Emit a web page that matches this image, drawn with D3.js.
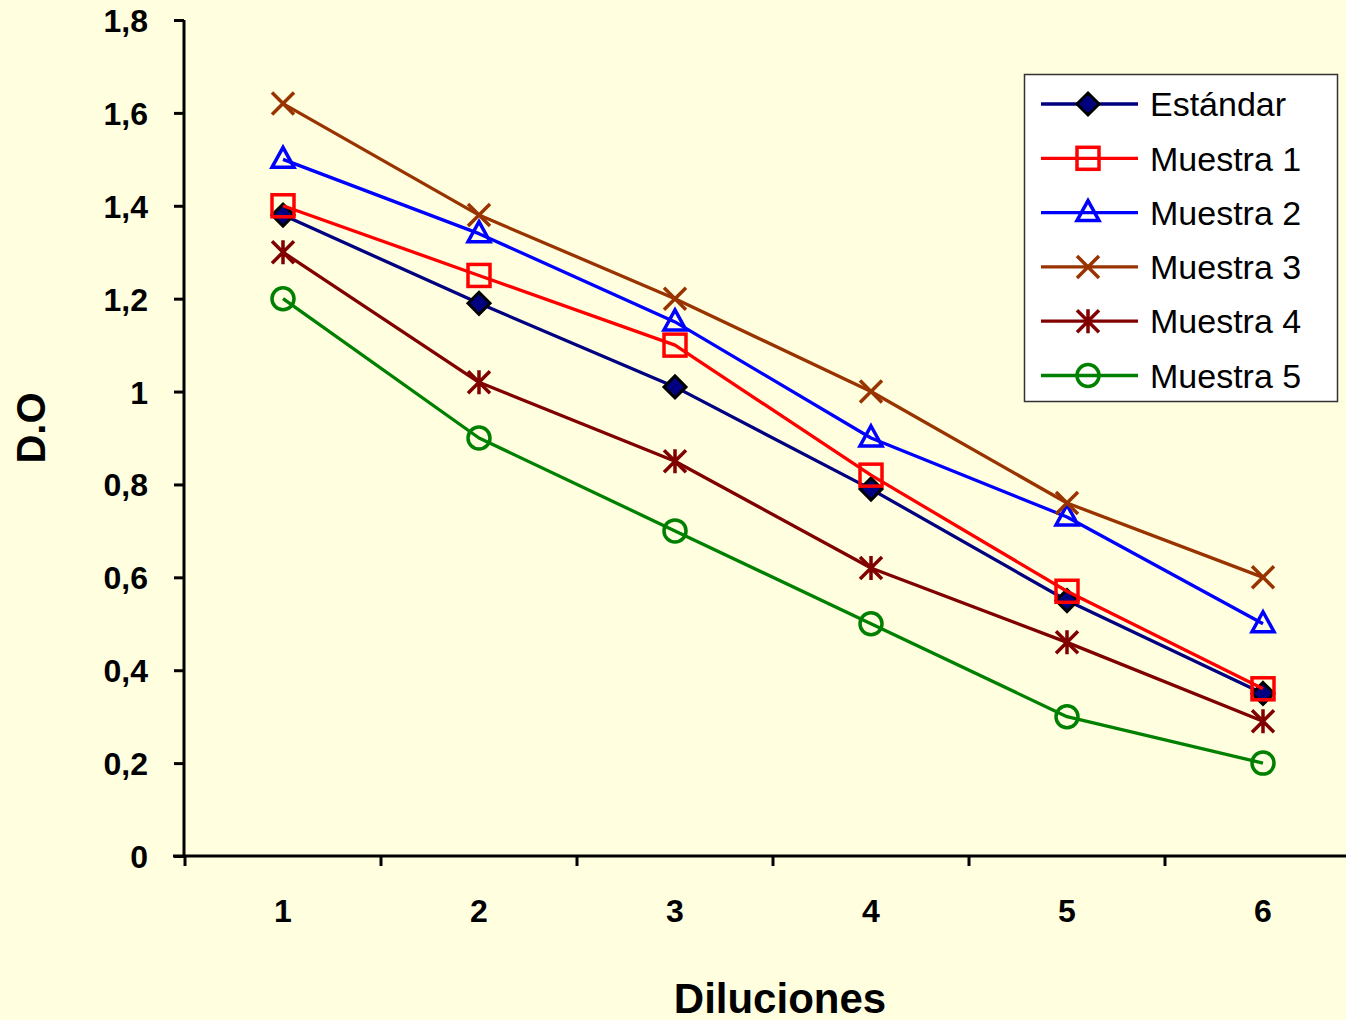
<!DOCTYPE html>
<html>
<head>
<meta charset="utf-8">
<script src="https://cdn.jsdelivr.net/npm/d3@7"></script>
<style>
  html, body { margin: 0; padding: 0; background: #FFFFE0; }
  svg { display: block; font-family: Arial, "Liberation Sans", sans-serif; }
</style>
</head>
<body>
<svg id="chart" width="1346" height="1020"></svg>
<script>
// Dilution steps on the x axis
const diluciones = ["1", "2", "3", "4", "5", "6"];

// Optical density readings per series
const estandar = [1.38, 1.19, 1.01, 0.79, 0.55, 0.35];
const muestra1 = [1.40, 1.25, 1.10, 0.82, 0.57, 0.36];
const muestra2 = [1.50, 1.34, 1.15, 0.90, 0.73, 0.50];
const muestra3 = [1.62, 1.38, 1.20, 1.00, 0.76, 0.60];
const muestra4 = [1.30, 1.02, 0.85, 0.62, 0.46, 0.29];
const muestra5 = [1.20, 0.90, 0.70, 0.50, 0.30, 0.20];

const seriesNames = ["Estándar", "Muestra 1", "Muestra 2", "Muestra 3", "Muestra 4", "Muestra 5"];
const yTicks = [0, 0.2, 0.4, 0.6, 0.8, 1.0, 1.2, 1.4, 1.6, 1.8];

const series = [
  { name: seriesNames[0], values: estandar, color: "#000080", marker: "diamond" },
  { name: seriesNames[1], values: muestra1, color: "#FF0000", marker: "square" },
  { name: seriesNames[2], values: muestra2, color: "#0000FF", marker: "triangle" },
  { name: seriesNames[3], values: muestra3, color: "#993300", marker: "x" },
  { name: seriesNames[4], values: muestra4, color: "#800000", marker: "star" },
  { name: seriesNames[5], values: muestra5, color: "#008000", marker: "circle" }
];

const svg = d3.select("#chart");
const plotLeft = 185, plotRight = 1361, plotTop = 20, plotBottom = 856;

const x = d3.scaleBand().domain(diluciones).range([plotLeft, plotRight]);
const y = d3.scaleLinear().domain([0, 1.8]).range([plotBottom, plotTop]);
const fmt = d => String(+d.toFixed(1)).replace(".", ",");

// Y axis
const yAxis = svg.append("g")
  .attr("transform", `translate(${plotLeft - 1},0)`)
  .call(d3.axisLeft(y).tickValues(yTicks).tickFormat(fmt).tickSize(10).tickPadding(26));
yAxis.select(".domain").attr("stroke", "#000").attr("stroke-width", 3).attr("d", `M0,${plotTop}V${plotBottom}`);
yAxis.selectAll(".tick line").attr("stroke", "#000").attr("stroke-width", 3);
yAxis.selectAll(".tick text")
  .attr("fill", "#000").attr("font-size", 32).attr("font-weight", "bold")
  .attr("font-family", "Arial, 'Liberation Sans', sans-serif")
  .attr("dy", "0.36em");

// X axis: ticks sit on the band boundaries, labels at band centres
const xAxisG = svg.append("g").attr("transform", `translate(0,${plotBottom})`);
xAxisG.append("line")
  .attr("x1", plotLeft - 12).attr("x2", 1346)
  .attr("stroke", "#000").attr("stroke-width", 3);
const boundaries = diluciones.map(d => x(d));
xAxisG.selectAll("line.tk").data(boundaries).enter().append("line")
  .attr("class", "tk")
  .attr("x1", d => d).attr("x2", d => d)
  .attr("y1", 0).attr("y2", 10)
  .attr("stroke", "#000").attr("stroke-width", 3);
xAxisG.selectAll("text").data(diluciones).enter().append("text")
  .attr("x", d => x(d) + x.bandwidth() / 2)
  .attr("y", 66)
  .attr("text-anchor", "middle")
  .attr("font-size", 32).attr("font-weight", "bold")
  .text(d => d);

// Axis titles
svg.append("text")
  .attr("x", 780).attr("y", 1013)
  .attr("text-anchor", "middle")
  .attr("font-size", 42).attr("font-weight", "bold")
  .text("Diluciones");
svg.append("text")
  .attr("transform", "translate(45,428) rotate(-90)")
  .attr("text-anchor", "middle")
  .attr("font-size", 40).attr("font-weight", "bold")
  .text("D.O");

// Marker drawing
function drawMarker(g, type, color) {
  switch (type) {
    case "diamond":
      g.append("path").attr("d", "M0,-11L11,0L0,11L-11,0Z")
        .attr("fill", "#000080").attr("stroke", "#000").attr("stroke-width", 3);
      break;
    case "square":
      g.append("rect").attr("x", -11).attr("y", -11).attr("width", 22).attr("height", 22)
        .attr("fill", "none").attr("stroke", color).attr("stroke-width", 3.5);
      break;
    case "triangle":
      g.append("path").attr("d", "M0,-12L11,8L-11,8Z")
        .attr("fill", "none").attr("stroke", color).attr("stroke-width", 3.5).attr("stroke-linejoin", "miter");
      break;
    case "x":
      g.append("path").attr("d", "M-11,-11L11,11M-11,11L11,-11")
        .attr("stroke", color).attr("stroke-width", 3.5);
      break;
    case "star":
      g.append("path").attr("d", "M-11,-11L11,11M-11,11L11,-11M0,-12V12")
        .attr("stroke", color).attr("stroke-width", 3.5);
      break;
    case "circle":
      g.append("circle").attr("r", 11)
        .attr("fill", "none").attr("stroke", color).attr("stroke-width", 3.5);
      break;
  }
}

// Series lines and markers
const line = d3.line()
  .x((d, i) => x(diluciones[i]) + x.bandwidth() / 2)
  .y(d => y(d));

series.forEach(s => {
  const g = svg.append("g");
  g.append("path").datum(s.values)
    .attr("d", line)
    .attr("fill", "none").attr("stroke", s.color).attr("stroke-width", 3.3)
    .attr("stroke-linejoin", "round");
  s.values.forEach((v, i) => {
    const mg = g.append("g")
      .attr("transform", `translate(${x(diluciones[i]) + x.bandwidth() / 2},${y(v)})`);
    drawMarker(mg, s.marker, s.color);
  });
});

// Legend
const legend = svg.append("g");
legend.append("rect")
  .attr("x", 1024.5).attr("y", 74.5).attr("width", 313).attr("height", 327)
  .attr("fill", "#fff").attr("stroke", "#333").attr("stroke-width", 1.5);
series.forEach((s, i) => {
  const ly = 104 + i * 54.3;
  const row = legend.append("g");
  row.append("line").attr("x1", 1041).attr("x2", 1138).attr("y1", ly).attr("y2", ly)
    .attr("stroke", s.color).attr("stroke-width", 3.3);
  const mg = row.append("g").attr("transform", `translate(1088,${ly})`);
  drawMarker(mg, s.marker, s.color);
  row.append("text").attr("x", 1150).attr("y", ly).attr("dy", "0.36em")
    .attr("font-size", 34).text(s.name);
});
</script>
</body>
</html>
